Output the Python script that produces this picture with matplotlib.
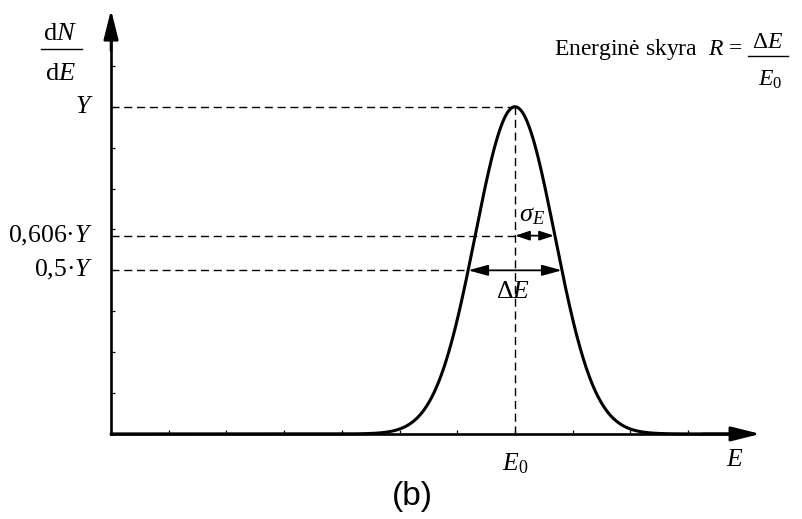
import numpy as np
import matplotlib
matplotlib.use("Agg")
import matplotlib.pyplot as plt
from matplotlib.patches import ArrowStyle

plt.rcParams["font.family"] = ["Liberation Serif", "DejaVu Serif"]
plt.rcParams["mathtext.fontset"] = "custom"
plt.rcParams["mathtext.rm"] = "Liberation Serif"
plt.rcParams["mathtext.it"] = "Liberation Serif:italic"

# --- schematic values (axis units) ---
x_ticks = [1, 2, 3, 4, 5, 6, 7, 8, 9, 10]
y_ticks = [1, 2, 3, 4, 5, 6, 7, 8, 9]
peak_center = 7.0      # E0
peak_height = 8.0      # Y
sigma = 0.69           # sigma_E
level_fracs = [1.0, 0.606, 0.5]
level_labels = ["$Y$", "0,606·$Y$", "0,5·$Y$"]
x_end, y_end = 11.25, 10.37

fig = plt.figure(figsize=(8.03, 5.19), dpi=100)
ax = fig.add_axes([0, 0, 1, 1])
ax.set_xlim(-1.924, 11.99)
ax.set_ylim(-2.08, 10.61)

# axes as spines through the origin, small inward ticks
for s in ["top", "right"]:
    ax.spines[s].set_visible(False)
ax.spines["left"].set_position(("data", 0))
ax.spines["bottom"].set_position(("data", 0))
ax.spines["left"].set_bounds(0, y_end - 0.3)
ax.spines["bottom"].set_bounds(0, x_end - 0.3)
for s in ["left", "bottom"]:
    ax.spines[s].set_linewidth(1.9)
ax.set_xticks(x_ticks)
ax.set_yticks(y_ticks)
ax.tick_params(direction="in", length=3, width=0.9, labelbottom=False, labelleft=False)

# arrow heads on the axes
head = ArrowStyle("-|>", head_length=1.2, head_width=0.3)
ax.annotate("", xy=(0, y_end), xytext=(0, y_end - 1.0),
            arrowprops=dict(arrowstyle=head, mutation_scale=15, lw=1.9, color="k",
                            shrinkA=0, shrinkB=0))
ax.annotate("", xy=(x_end, 0), xytext=(x_end - 1.0, 0),
            arrowprops=dict(arrowstyle=head, mutation_scale=15, lw=1.9, color="k",
                            shrinkA=0, shrinkB=0))

# gaussian peak
x = np.linspace(0, 11.0, 800)
y = peak_height * np.exp(-0.5 * ((x - peak_center) / sigma) ** 2)
ax.plot(x, y, color="k", lw=2.2, solid_capstyle="round")

# dashed guide lines
dash = dict(color="k", lw=1.0, dashes=(5.8, 3.4))
half = np.sqrt(2 * np.log(2)) * sigma
ax.plot([0, peak_center], [peak_height, peak_height], **dash)
ax.plot([0, peak_center], [peak_height * 0.606] * 2, **dash)
ax.plot([0, peak_center - half], [peak_height * 0.5] * 2, **dash)
ax.plot([peak_center, peak_center], [0, peak_height], **dash)

for frac, lab in zip(level_fracs, level_labels):
    ax.text(-0.31, peak_height * frac, lab, ha="right", va="center", fontsize=18.5)

# width arrows
dbl = ArrowStyle("<|-|>", head_length=0.8, head_width=0.22)
ax.annotate("", xy=(peak_center - half, peak_height * 0.5),
            xytext=(peak_center + half, peak_height * 0.5),
            arrowprops=dict(arrowstyle=dbl, mutation_scale=15, lw=1.3, color="k",
                            shrinkA=0, shrinkB=0))
dbl_s = ArrowStyle("<|-|>", head_length=0.58, head_width=0.19)
ax.annotate("", xy=(peak_center, peak_height * 0.606),
            xytext=(peak_center + sigma * 0.98, peak_height * 0.606),
            arrowprops=dict(arrowstyle=dbl_s, mutation_scale=15, lw=1.3, color="k",
                            shrinkA=0, shrinkB=0))
ax.text(peak_center + 0.3, 5.32, r"$\sigma_E$", ha="center", va="center", fontsize=19)
ax.text(peak_center - 0.03, 3.47, r"$\Delta E$", ha="center", va="center", fontsize=18.5)

# y-axis label dN/dE built as a stacked fraction
ax.text(-0.884, 9.63, r"$\mathrm{d}N$", ha="center", va="baseline", fontsize=19)
ax.plot([-1.21, -0.50], [9.41, 9.41], color="k", lw=1.0)
ax.text(-0.884, 8.66, r"$\mathrm{d}E$", ha="center", va="baseline", fontsize=19)

ax.text(peak_center, -0.72, r"$E_0$", ha="center", va="center", fontsize=18.5)
ax.text(10.81, -0.64, r"$E$", ha="center", va="center", fontsize=18.5)

# resolution formula, top right
ax.text(10.94, 9.27, "Energinė skyra  $R$ =", ha="right", va="baseline", fontsize=17)
ax.text(11.37, 9.44, r"$\Delta E$", ha="center", va="baseline", fontsize=17)
ax.plot([11.04, 11.73], [9.24, 9.24], color="k", lw=1.0)
ax.text(11.42, 8.51, r"$E_0$", ha="center", va="baseline", fontsize=17)

ax.text(5.22, -1.54, "(b)", ha="center", va="center", fontsize=24,
        family=["Liberation Sans", "DejaVu Sans"])

fig.savefig("out.png", dpi=100)
